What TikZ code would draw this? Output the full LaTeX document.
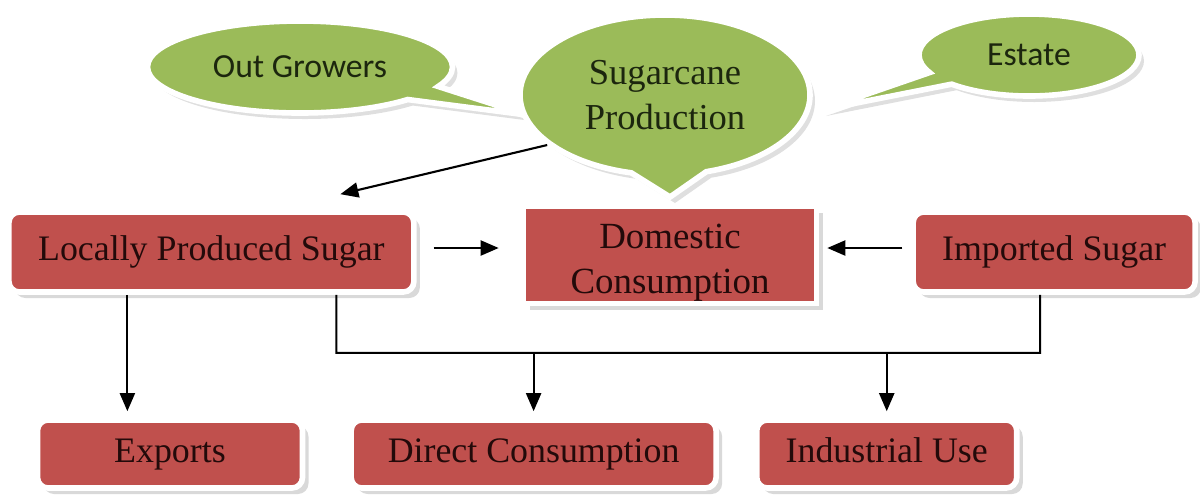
\documentclass[tikz,border=0pt]{standalone}
\usepackage{fontspec}
\setmainfont{Liberation Serif}
\newfontfamily\bubblefont{Carlito}
\newfontfamily\canefont{Liberation Serif}
\usepackage{xcolor}
\definecolor{canegreen}{RGB}{155,187,89}
\definecolor{sugarred}{RGB}{192,80,77}
\definecolor{inkred}{RGB}{35,10,10}
\definecolor{inkgreen}{RGB}{28,38,14}
\usepackage{tikz}
\usetikzlibrary{shapes.callouts, shadows, arrows.meta, positioning, calc}

\begin{document}
\begin{tikzpicture}[
    node distance=0.4cm,
    box/.style={rectangle, draw=white, line width=1.6pt, fill=sugarred, rounded corners=3pt, minimum height=0.8cm, inner sep=0pt, text=inkred, text height=1.6ex, text depth=0.5ex, font=\rmfamily\fontsize{10.2}{13}\selectfont, drop shadow={opacity=0.3, shadow xshift=0.6mm, shadow yshift=-0.6mm}},
    plainbox/.style={box, rounded corners=0pt},
    bubble/.style={ellipse callout, draw=white, line width=1.6pt, fill=canegreen, inner sep=0pt, text=inkgreen, align=center, drop shadow={opacity=0.25, shadow xshift=0.5mm, shadow yshift=-0.6mm}},
    arrow/.style={-{Triangle[length=1.8mm, width=1.5mm]}, line width=0.6pt, black}
]
\useasboundingbox (0,0) rectangle (12,4.98);

\node[bubble, minimum width=3.05cm, minimum height=0.92cm, callout pointer arc=20, callout absolute pointer={(5.27,3.83)}, font=\bubblefont\fontsize{9.6}{12}\selectfont] (growers) at (3.00,4.31) {Out Growers};
\node[bubble, minimum width=2.2cm, minimum height=0.82cm, callout pointer arc=20, callout absolute pointer={(8.21,3.88)}, font=\bubblefont\fontsize{9.6}{12}\selectfont] (estate) at (10.29,4.43) {Estate};
\node[bubble, minimum width=2.9cm, minimum height=1.6cm, callout pointer arc=30, callout absolute pointer={(6.70,3.01)}, font=\canefont\fontsize{10.4}{13}\selectfont] (cane) at (6.65,4.03) {Sugarcane\\Production};

\node[plainbox, minimum width=2.93cm, minimum height=0.97cm, path picture={\node[align=center, text height=, text depth=, text=inkred, font=\rmfamily\fontsize{10.5}{12.8}\selectfont] (domtext) at ([yshift=-0.8mm]path picture bounding box.center) {Domestic\\Consumption};}] (domestic) at (6.70,2.43) {};
\node[box, minimum width=4.05cm, left=1.04cm of domestic, yshift=0.3mm] (local) {Locally Produced Sugar};
\node[box, minimum width=2.82cm, right=0.91cm of domestic, yshift=0.3mm] (imported) {Imported Sugar};

\node[box, minimum width=2.65cm, minimum height=0.68cm] (exports) at (1.70,0.44) {Exports};
\node[box, minimum width=3.65cm, minimum height=0.68cm, right=0.43cm of exports] (direct) {Direct Consumption};
\node[box, minimum width=2.6cm, minimum height=0.68cm, right=0.35cm of direct] (industrial) {Industrial Use};

\coordinate (localin) at ([xshift=12.9mm, yshift=1.5mm]local.north);
\coordinate (busL) at ($(local.south)+(1.25,-0.58)$);

\draw[arrow] (cane.203) -- (localin);
\draw[arrow, shorten <=1.7mm, shorten >=2.2mm] ([yshift=0.4mm]local.east) -- ([yshift=0.4mm]local.east -| domestic.west);
\draw[arrow, shorten <=0.8mm, shorten >=0.8mm] ([yshift=0.4mm]imported.west) -- ([yshift=0.4mm]imported.west -| domestic.east);
\draw[arrow, shorten >=0.6mm] ([xshift=-8.4mm]local.south) -- ([xshift=-8.4mm]local.south |- exports.north);
\draw[line width=0.6pt] ([xshift=12.5mm]local.south) -- (busL) -| ([xshift=-1.4mm]imported.south);
\draw[arrow, shorten >=0.6mm] (busL -| direct.north) -- (direct.north);
\draw[arrow, shorten >=0.6mm] (busL -| industrial.north) -- (industrial.north);
\end{tikzpicture}
\end{document}
